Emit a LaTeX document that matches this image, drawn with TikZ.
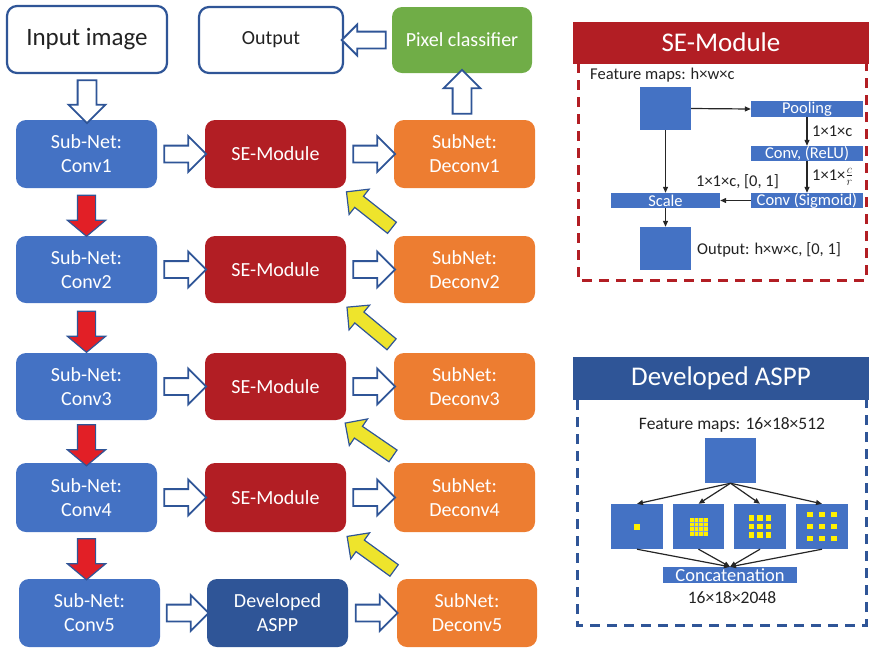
\documentclass[tikz,border=0pt]{standalone}
\usepackage{fontspec}
\setmainfont{Carlito}
\usetikzlibrary{shapes.arrows,arrows.meta,calc}
\definecolor{cblue}{HTML}{4472C4}
\definecolor{dblue}{HTML}{2F5597}
\definecolor{sered}{HTML}{B21E24}
\definecolor{orng}{HTML}{ED7D31}
\definecolor{grn}{HTML}{70AD47}
\definecolor{ylw}{HTML}{EEE42C}
\definecolor{dotyl}{HTML}{FFF000}
\definecolor{rarr}{HTML}{E21F26}
\definecolor{txt}{HTML}{222222}
\begin{document}
\begin{tikzpicture}[x=1pt,y=-1pt,
  box/.style={rectangle, rounded corners=10pt, inner sep=0pt, align=center, text=white,
    font=\fontsize{20}{24}\selectfont, minimum width=141pt, minimum height=68pt},
  convbox/.style={box, fill=cblue},
  sebox/.style={box, fill=sered},
  debox/.style={box, fill=orng},
  wbox/.style={box, fill=white, draw=dblue, line width=2.2pt, text=txt},
  barrow/.style={single arrow, inner xsep=0pt, single arrow tip angle=90, sloped, allow upside down},
  harrow/.style={barrow, draw=dblue, fill=white, line width=1.8pt, inner ysep=7.5pt,
    single arrow head extend=9.5pt, minimum height=42pt},
  varrow/.style={barrow, draw=dblue, fill=white, line width=1.8pt, inner ysep=8.5pt,
    single arrow head extend=9pt, minimum height=43pt},
  rarrow/.style={barrow, draw=dblue, fill=rarr, line width=1.2pt, inner ysep=8.5pt,
    single arrow head extend=10pt, single arrow tip angle=100, minimum height=41pt},
  yarrow/.style={barrow, draw=dblue, fill=ylw, line width=1.2pt, inner ysep=6.5pt,
    single arrow head extend=9pt, minimum height=58pt},
  fm/.style={rectangle, fill=cblue, inner sep=0pt},
  op/.style={rectangle, fill=cblue, inner sep=0pt, text=white, font=\fontsize{16.5}{18}\selectfont},
  lbl/.style={inner sep=0pt, text=txt, font=\fontsize{16.5}{18}\selectfont},
  alab/.style={inner sep=0pt, text=txt, font=\fontsize{17.5}{20}\selectfont},
  sa/.style={-{Triangle[length=6pt,width=5pt]}, line width=1.2pt, draw=black!85},
  head/.style={rectangle, inner sep=0pt, minimum width=296pt, minimum height=42pt, text=white,
    font=\fontsize{27}{30}\selectfont}
]
\useasboundingbox (0,0) rectangle (874,649);

% ---------- left network ----------
\node[wbox, minimum width=160pt, minimum height=67pt, font=\fontsize{25}{30}\selectfont] (inp) at (87,39.5) {Input image};
\node[wbox, minimum width=144pt, minimum height=66pt] (out) at (271,40) {Output};
\node[box, fill=grn, minimum width=140pt, minimum height=66pt] (pix) at (462,40) {Pixel classifier};

\node[convbox] (c1) at (86.5,154) {Sub-Net:\\Conv1};
\node[convbox, minimum height=67pt] (c2) at (86.5,269.5) {Sub-Net:\\Conv2};
\node[convbox, minimum height=67pt] (c3) at (86.5,386.5) {Sub-Net:\\Conv3};
\node[convbox, minimum height=69pt] (c4) at (86.5,497.5) {Sub-Net:\\Conv4};
\node[convbox] (c5) at (89.5,613) {Sub-Net:\\Conv5};

\node[sebox] (se1) at (275.5,154) {SE-Module};
\node[sebox, minimum height=67pt] (se2) at (275.5,269.5) {SE-Module};
\node[sebox, minimum height=67pt] (se3) at (275.5,386.5) {SE-Module};
\node[sebox, minimum height=69pt] (se4) at (275.5,497.5) {SE-Module};
\node[box, fill=dblue] (aspp) at (277.5,613) {Developed\\ASPP};

\node[debox] (d1) at (464.5,154) {SubNet:\\Deconv1};
\node[debox, minimum height=67pt] (d2) at (464.5,269.5) {SubNet:\\Deconv2};
\node[debox, minimum height=67pt] (d3) at (464.5,386.5) {SubNet:\\Deconv3};
\node[debox, minimum height=69pt] (d4) at (464.5,497.5) {SubNet:\\Deconv4};
\node[debox, minimum width=140pt] (d5) at (467,613) {SubNet:\\Deconv5};

% arrows
\path (inp.south) -- node[varrow]{} (inp.south|-c1.north);
\path (pix.south|-d1.north) -- node[varrow, minimum height=44pt]{} (pix.south);
\path (pix.west) -- node[harrow, single arrow head extend=7pt, minimum height=44pt]{} (out.east);
\foreach \i in {1,2,3,4}{
  \path (c\i.east) -- node[harrow]{} (se\i.west);
  \path (se\i.east) -- node[harrow]{} (d\i.west);
}
\path (c5.east) -- node[harrow]{} (aspp.west);
\path (aspp.east) -- node[harrow]{} (d5.west);
\foreach \i/\j in {1/2,2/3,3/4,4/5}{
  \path (c\i.south) -- node[rarrow]{} (c\i.south|-c\j.north);
  \path ($(d\j.north west)+(2,-5)$) -- node[yarrow]{} ($(se\i.south east)+(2,5)$);
}

% ---------- SE-Module panel ----------
\node[head, fill=sered] (sehead) at (721,42.5) {SE-Module};
\draw[sered, line width=3pt, dash pattern=on 10pt off 7pt] (578,63) -- (578,280) -- (866,280) -- (866,63);
\node[lbl, anchor=west] (sefm) at (590,75) {Feature maps: h×w×c};
\node[fm, minimum width=51pt, minimum height=43pt] (sq1) at (665.5,108.5) {};
\node[op, minimum width=112pt, minimum height=16pt] (pool) at (807,109) {Pooling};
\node[op, minimum width=112pt, minimum height=15pt] (relu) at (807,153.5) {Conv, (ReLU)};
\node[op, minimum width=112pt, minimum height=15pt] (sig) at (807,200.5) {Conv (Sigmoid)};
\node[op, minimum width=109pt, minimum height=15pt] (scale) at (665.5,200.5) {Scale};
\node[fm, minimum width=51pt, minimum height=43pt] (sq2) at (665.5,248.5) {};
\draw[sa] (sq1.east) -- (pool.west);
\draw[sa] (pool.south) -- (relu.north);
\draw[sa] (relu.south) -- (sig.north);
\draw[sa] (sig.west) -- (scale.east);
\draw[sa] (sq1.south) -- (scale.north);
\draw[sa] (scale.south) -- (sq2.north);
\node[lbl, anchor=west] (l1) at (812,131) {1×1×c};
\node[lbl, anchor=west] (l2) at (812,177) {1×1×$\frac{c}{r}$};
\node[lbl, anchor=east] (l3) at (779,182) {1×1×c, [0, 1]};
\node[lbl, anchor=west] (l4) at (697,250) {Output: h×w×c, [0, 1]};

% ---------- Developed ASPP panel ----------
\node[head, fill=dblue, minimum height=43pt] (ahead) at (721,378.5) {Developed ASPP};
\draw[dblue, line width=3pt, dash pattern=on 10pt off 7pt] (577,400) -- (577,625) -- (866,625) -- (866,400);
\node[alab] (afm) at (732,425) {Feature maps: 16×18×512};
\node[fm, minimum width=51pt, minimum height=45pt] (top) at (730.5,460.5) {};
\node[fm, minimum width=52pt, minimum height=45pt] (b1) at (637,526.5) {};
\node[fm, minimum width=51pt, minimum height=45pt] (b2) at (698.5,526.5) {};
\node[fm, minimum width=52pt, minimum height=45pt] (b3) at (760,526.5) {};
\node[fm, minimum width=52pt, minimum height=45pt] (b4) at (822,526.5) {};
\node[op, minimum width=134pt, minimum height=16pt, font=\fontsize{18.5}{20}\selectfont] (cat) at (730,575) {Concatenation};
\node[alab] (asz) at (732,598) {16×18×2048};
\foreach \b in {b1,b2,b3,b4}{
  \draw[sa] (top.south) -- (\b.north);
  \draw[sa] (\b.south) -- (cat.north);
}
% dilation patterns
\fill[dotyl] ($(b1)+(-3,-3)$) rectangle ($(b1)+(3,3)$);
\fill[dotyl] ($(b2)+(-9,-9)$) rectangle ($(b2)+(9,9)$);
\foreach \k in {-4.5,0,4.5}{
  \draw[cblue!70, line width=0.6pt] ($(b2)+(\k,-9)$) -- ($(b2)+(\k,9)$);
  \draw[cblue!70, line width=0.6pt] ($(b2)+(-9,\k)$) -- ($(b2)+(9,\k)$);
}
\foreach \i in {-1,0,1}{
  \foreach \j in {-1,0,1}{
    \fill[dotyl] ($(b3)+(8.5*\i-2.6,8.5*\j-2.6)$) rectangle ++(5.2,5.2);
    \fill[dotyl] ($(b4)+(12*\i-2.6,12*\j-2.6)$) rectangle ++(5.2,5.2);
  }
}
\end{tikzpicture}
\end{document}
